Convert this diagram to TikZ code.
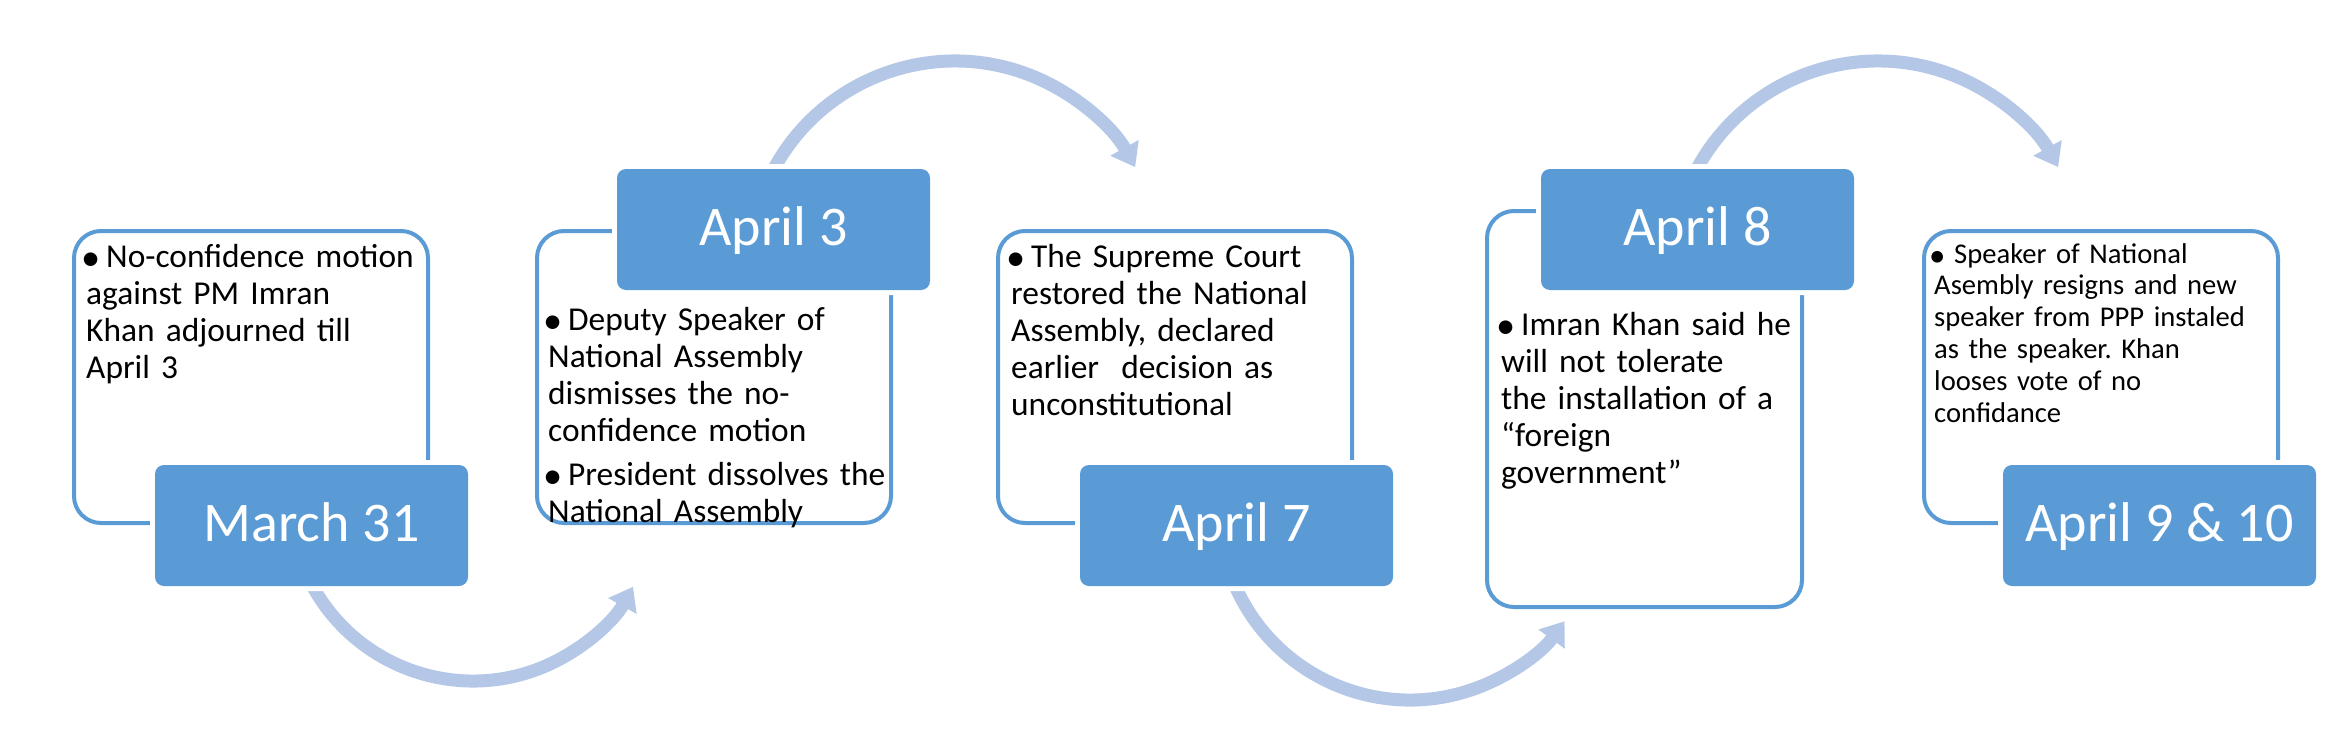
\documentclass[tikz,border=0pt]{standalone}
\usepackage{fontspec}
\usepackage{graphicx}
\setmainfont{Carlito}
\usetikzlibrary{arrows.meta}

\definecolor{datefill}{HTML}{5B9BD5}
\definecolor{flowcol}{HTML}{B4C7E7}

% one bullet with hanging lines
\newcommand{\bul}[1]{\noindent\hangindent=20pt\hangafter=1\makebox[20pt][l]{\hspace{-5pt}\raisebox{-3pt}{\scalebox{1.15}{\textbullet}}}#1\par}
\newcommand{\notefont}{\fontsize{33.4}{37}\selectfont\frenchspacing}
\newcommand{\smallnotefont}{\fontsize{28.6}{31.8}\selectfont\frenchspacing}

\tikzset{
  notebox/.style={draw=datefill, line width=4pt, rounded corners=27pt,
    anchor=north west, inner sep=0pt, outer sep=0pt,
    minimum width=354pt, minimum height=292pt},
  datebox/.style={fill=datefill, preaction={draw=white, line width=10pt},
    rounded corners=9pt, anchor=north west, inner sep=0pt, outer sep=0pt,
    minimum width=313pt, minimum height=121pt,
    text=white, font=\fontsize{56}{60}\selectfont, text height=34pt, text depth=2pt},
  notetext/.style={anchor=base west, inner sep=0pt, text width=345pt, font=\notefont},
  flow/.style={draw=flowcol, line width=13pt, -{Triangle[width=31pt,length=22pt]}}
}

\begin{document}
\begin{tikzpicture}[x=1pt, y=-1pt]
  \path[use as bounding box, fill=white] (0,0) rectangle (2346,747);

  % outlined boxes
  \node[notebox] (note1) at (74,231) {};
  \node[notebox] (note2) at (537,231) {};
  \node[notebox] (note3) at (998,231) {};
  \node[notebox, minimum width=315pt, minimum height=396pt] (note4) at (1487,211) {};
  \node[notebox] (note5) at (1924,231) {};

  % curved arrows between dates
  \coordinate (c1) at (473,498);
  \coordinate (c2) at (955,267);
  \coordinate (c3) at (1410,509);
  \coordinate (c4) at (1878,267);
  \draw[flow] ([shift={(155:183)}]c1) arc[start angle=155, end angle=29, radius=183];
  \draw[flow] ([shift={(205:206)}]c2) arc[start angle=205, end angle=331, radius=206];
  \draw[flow] ([shift={(160:191)}]c3) arc[start angle=160, end angle=36, radius=191];
  \draw[flow] ([shift={(205:206)}]c4) arc[start angle=205, end angle=331, radius=206];

  % dates
  \node[datebox] (date1) at (155,465) {March 31};
  \node[datebox] (date2) at (617,169) {April 3};
  \node[datebox] (date3) at (1080,465) {April 7};
  \node[datebox] (date4) at (1541,169) {April 8};
  \node[datebox] (date5) at (2003,465) {April 9 \& 10};

  % texts
  \node[notetext] (txt1) at (86,267) {\bul{No-confidence motion\\against PM Imran\\Khan adjourned till\\April 3}};
  \node[notetext] (txt2) at (548,330) {\bul{Deputy Speaker of\\National Assembly\\dismisses the no-\\confidence motion}\vspace{7pt}\bul{President dissolves the\\National Assembly}};
  \node[notetext] (txt3) at (1011,267) {\bul{The Supreme Court\\restored the National\\Assembly, declared\\earlier\ \ decision as\\unconstitutional}};
  \node[notetext] (txt4) at (1501,335) {\bul{Imran Khan said he\\will not tolerate\\the installation of a\\“foreign\\government”}};
  \node[notetext, font=\smallnotefont] (txt5) at (1934,263) {\bul{Speaker of National\\Asembly resigns and new\\speaker from PPP instaled\\as the speaker. Khan\\looses vote of no\\confidance}};
\end{tikzpicture}
\end{document}
